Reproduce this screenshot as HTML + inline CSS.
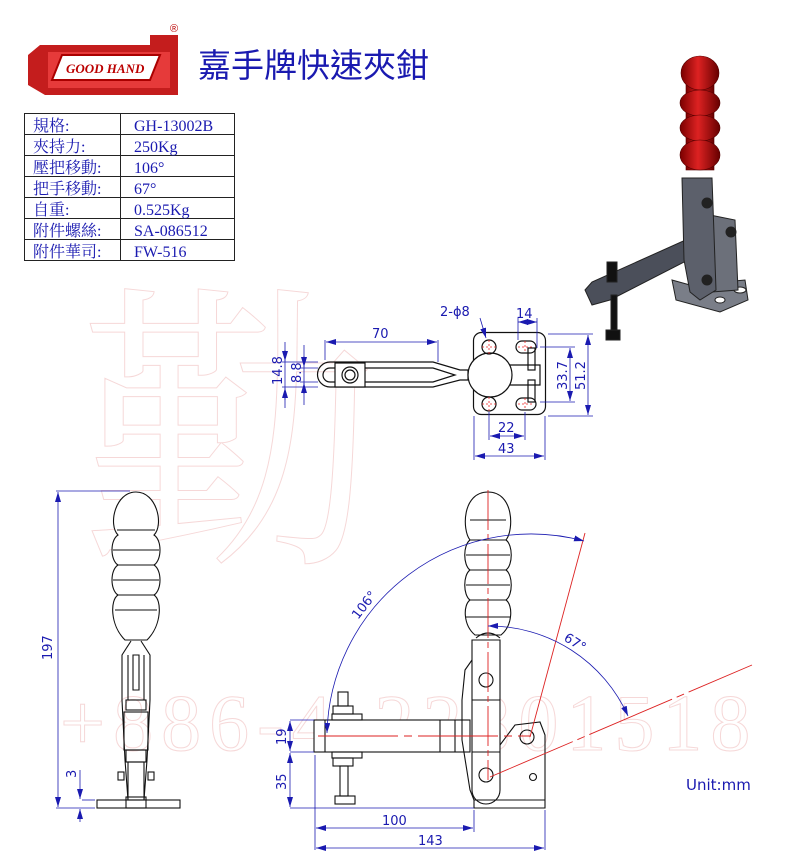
<!DOCTYPE html>
<html><head><meta charset="utf-8"><style>
html,body{margin:0;padding:0;background:#fff}
svg{display:block}
.t{font-family:"Liberation Serif","Noto Serif CJK SC","Noto Sans CJK TC",serif;font-size:16px;fill:#1a1ab0}
.d{font-family:"DejaVu Sans","Liberation Sans",sans-serif;font-size:13px;fill:#1a1ab0}
</style></head><body>
<svg width="800" height="868" viewBox="0 0 800 868" xmlns="http://www.w3.org/2000/svg">
<defs>
<marker id="a" viewBox="0 0 10 6" refX="10" refY="3" markerWidth="10" markerHeight="6" orient="auto-start-reverse" markerUnits="userSpaceOnUse"><path d="M0,0L10,3L0,6z" fill="#1a1ab0"/></marker>
<linearGradient id="rg" x1="0" x2="1"><stop offset="0" stop-color="#7a0000"/><stop offset=".45" stop-color="#d22"/><stop offset="1" stop-color="#600"/></linearGradient>
</defs>
<!-- watermark -->
<g fill="none" stroke="#f6d8d8" stroke-width="1" font-family="Liberation Serif,Noto Serif CJK SC,serif">
<text x="80" y="540" font-size="300" font-family="Noto Serif CJK TC,serif">勤</text>
<text x="60" y="750" font-size="80" letter-spacing="8">+886-4-22801518</text>
</g>
<!-- logo -->
<g>
<path d="M40,45 L150,45 L150,35 L178,35 L178,95 L45,95 L28,85 L28,55z" fill="#c41d1d"/>
<path d="M48,52 L170,52 L170,88 L48,88z" fill="#e63a3a"/>
<path d="M62,55 L160,55 L150,80 L52,80z" fill="#fff" stroke="#a00" stroke-width="2"/>
<text x="66" y="73" font-family="Liberation Serif,serif" font-style="italic" font-weight="bold" font-size="13" fill="#b00">GOOD HAND</text>
<text x="170" y="32" font-size="11" fill="#b00" font-family="Liberation Sans,sans-serif">®</text>
</g>
<text x="198" y="77" font-family="Noto Sans CJK TC,sans-serif" font-size="33" fill="#1a1ab0">嘉手牌快速夾鉗</text>
<!-- table -->
<g stroke="#222" stroke-width="1" fill="none">
<rect x="24.5" y="113.5" width="210" height="147"/>
<line x1="120.5" y1="113" x2="120.5" y2="261"/>
<line x1="24" y1="134.5" x2="235" y2="134.5"/><line x1="24" y1="155.5" x2="235" y2="155.5"/>
<line x1="24" y1="176.5" x2="235" y2="176.5"/><line x1="24" y1="197.5" x2="235" y2="197.5"/>
<line x1="24" y1="218.5" x2="235" y2="218.5"/><line x1="24" y1="239.5" x2="235" y2="239.5"/>
</g>
<g class="t">
<text x="33" y="131">規格:</text><text x="134" y="131">GH-13002B</text>
<text x="33" y="152">夾持力:</text><text x="134" y="152">250Kg</text>
<text x="33" y="173">壓把移動:</text><text x="134" y="173">106°</text>
<text x="33" y="194">把手移動:</text><text x="134" y="194">67°</text>
<text x="33" y="215">自重:</text><text x="134" y="215">0.525Kg</text>
<text x="33" y="236">附件螺絲:</text><text x="134" y="236">SA-086512</text>
<text x="33" y="257">附件華司:</text><text x="134" y="257">FW-516</text>
</g>
<!-- photo -->
<g stroke="#222" stroke-width="1">
<path d="M672,280 L690,285 L745,280 L748,300 L720,312 L676,300Z" fill="#7a7e88"/>
<ellipse cx="720" cy="300" rx="5" ry="3" fill="#fff"/><ellipse cx="740" cy="290" rx="6" ry="3" fill="#fff"/>
<path d="M710,215 L735,220 L738,290 L712,292Z" fill="#6c707a"/>
<path d="M585,290 L592,282 L690,238 L692,258 L610,300 L592,305Z" fill="#4b4f5a"/>
<path d="M682,178 L712,178 L716,290 L700,300 L690,292 L684,260Z" fill="#5c606b"/>
<circle cx="707" cy="203" r="5" fill="#222"/><circle cx="707" cy="280" r="5" fill="#222"/><circle cx="731" cy="232" r="5" fill="#222"/>
<rect x="607" y="262" width="10" height="20" fill="#111"/>
<rect x="611" y="295" width="6" height="35" fill="#111"/>
<rect x="606" y="330" width="14" height="10" fill="#111"/>
</g>
<g stroke="#500" stroke-width="0.6">
<rect x="686" y="80" width="28" height="90" fill="url(#rg)"/>
<ellipse cx="700" cy="73" rx="19" ry="17" fill="url(#rg)"/>
<ellipse cx="700" cy="103" rx="20" ry="13" fill="url(#rg)"/>
<ellipse cx="700" cy="128" rx="20" ry="13" fill="url(#rg)"/>
<ellipse cx="700" cy="155" rx="20" ry="15" fill="url(#rg)"/>
</g>
<!-- top view -->
<g fill="none" stroke="#111" stroke-width="1.2">
<path d="M330,362 L433,362 L460,370 L468,370 L468,380 L460,380 L433,387 L330,387 A12.5,12.5 0 0 1 330,362Z"/>
<path d="M330,368 L433,368 L455,375 L433,382 L330,382 A7,7 0 0 1 330,368Z"/>
<rect x="335" y="363" width="30" height="24" fill="#fff"/>
<circle cx="350" cy="375" r="8"/><circle cx="350" cy="375" r="5"/>
<rect x="473.5" y="332.5" width="72" height="82" rx="8"/>
<circle cx="490" cy="375" r="22" fill="#fff"/>
<path d="M510,365 L540,365 L540,385 L510,385"/>
<rect x="528" y="348" width="7" height="22"/><rect x="528" y="380" width="7" height="22"/>
<circle cx="489" cy="347" r="7"/><circle cx="489" cy="404" r="7"/>
<rect x="516" y="341" width="20" height="12" rx="6"/><rect x="516" y="398" width="20" height="12" rx="6"/>
</g>
<g stroke="#e22" stroke-width="0.8" stroke-dasharray="2,2">
<line x1="482" y1="347" x2="496" y2="347"/><line x1="489" y1="340" x2="489" y2="354"/>
<line x1="482" y1="404" x2="496" y2="404"/><line x1="489" y1="397" x2="489" y2="411"/>
<line x1="518" y1="347" x2="534" y2="347"/><line x1="525" y1="341" x2="525" y2="353"/>
<line x1="518" y1="404" x2="534" y2="404"/><line x1="525" y1="398" x2="525" y2="410"/>
</g>
<g stroke="#1a1ab0" stroke-width="0.8" fill="none">
<line x1="325" y1="340" x2="325" y2="360"/><line x1="438" y1="340" x2="438" y2="362"/>
<line x1="326" y1="342" x2="437" y2="342" marker-start="url(#a)" marker-end="url(#a)"/>
<line x1="282" y1="362" x2="318" y2="362"/><line x1="282" y1="387" x2="318" y2="387"/>
<line x1="285" y1="342" x2="285" y2="408"/><line x1="285" y1="350" x2="285" y2="361" marker-end="url(#a)"/><line x1="285" y1="400" x2="285" y2="388" marker-end="url(#a)"/>
<line x1="300" y1="368" x2="318" y2="368"/><line x1="300" y1="382" x2="318" y2="382"/>
<line x1="304" y1="345" x2="304" y2="405"/><line x1="304" y1="356" x2="304" y2="367" marker-end="url(#a)"/><line x1="304" y1="394" x2="304" y2="383" marker-end="url(#a)"/>
<line x1="518" y1="318" x2="518" y2="340"/><line x1="537" y1="318" x2="537" y2="348"/>
<line x1="518" y1="322" x2="537" y2="322" marker-start="url(#a)" marker-end="url(#a)"/>
<line x1="540" y1="347" x2="575" y2="347"/><line x1="540" y1="402" x2="575" y2="402"/>
<line x1="570" y1="348" x2="570" y2="401" marker-start="url(#a)" marker-end="url(#a)"/>
<line x1="548" y1="334" x2="593" y2="334"/><line x1="548" y1="416" x2="593" y2="416"/>
<line x1="588" y1="335" x2="588" y2="415" marker-start="url(#a)" marker-end="url(#a)"/>
<line x1="489" y1="412" x2="489" y2="440"/><line x1="525" y1="412" x2="525" y2="440"/>
<line x1="490" y1="436" x2="524" y2="436" marker-start="url(#a)" marker-end="url(#a)"/>
<line x1="474" y1="416" x2="474" y2="460"/><line x1="545" y1="416" x2="545" y2="460"/>
<line x1="475" y1="456" x2="544" y2="456" marker-start="url(#a)" marker-end="url(#a)"/>
<line x1="480" y1="318" x2="486" y2="338" marker-end="url(#a)"/>
</g>
<g class="d">
<text x="372" y="338">70</text>
<text x="440" y="316">2-ϕ8</text>
<text x="516" y="318">14</text>
<text x="498" y="432">22</text>
<text x="498" y="453">43</text>
<text transform="translate(282,385) rotate(-90)">14.8</text>
<text transform="translate(301,383) rotate(-90)">8.8</text>
<text transform="translate(567,390) rotate(-90)">33.7</text>
<text transform="translate(585,390) rotate(-90)">51.2</text>
</g>
<!-- left view -->
<g fill="none" stroke="#111" stroke-width="1.1">
<path d="M125,640 C110,625 110,600 118,595 C110,590 110,570 118,565 C110,560 110,540 118,535 C108,525 115,492 136,492 C157,492 164,525 154,535 C162,540 162,560 154,565 C162,570 162,590 154,595 C162,600 162,625 147,640Z" fill="#fff"/>
<line x1="117" y1="530" x2="155" y2="530"/><line x1="113" y1="550" x2="159" y2="550"/><line x1="117" y1="565" x2="155" y2="565"/>
<line x1="113" y1="580" x2="159" y2="580"/><line x1="117" y1="595" x2="155" y2="595"/><line x1="115" y1="610" x2="157" y2="610"/>
<path d="M131,641 L122,655 L122,700 L125,760 L128,800 M141,641 L150,655 L150,700 L147,760 L144,800"/>
<path d="M128,655 L128,700 M144,655 L144,700 M133,655 L139,655 L139,690 L133,690Z"/>
<rect x="126" y="700" width="20" height="10"/><rect x="124" y="712" width="24" height="38"/><rect x="126" y="750" width="20" height="12"/>
<rect x="128" y="762" width="16" height="38"/>
<rect x="118" y="772" width="6" height="8"/><rect x="148" y="772" width="6" height="8"/>
<rect x="97" y="800" width="83" height="8"/><rect x="126" y="797" width="20" height="11"/>
</g>
<g stroke="#1a1ab0" stroke-width="0.8" fill="none">
<line x1="56" y1="491" x2="130" y2="491"/><line x1="56" y1="808" x2="95" y2="808"/>
<line x1="58" y1="492" x2="58" y2="807" marker-start="url(#a)" marker-end="url(#a)"/>
<line x1="82" y1="800" x2="95" y2="800"/>
<line x1="80" y1="770" x2="80" y2="799" marker-end="url(#a)"/><line x1="80" y1="822" x2="80" y2="809" marker-end="url(#a)"/>
</g>
<g class="d"><text transform="translate(52,660) rotate(-90)">197</text><text transform="translate(76,778) rotate(-90)">3</text></g>
<!-- front view -->
<g fill="none" stroke="#111" stroke-width="1.1">
<path d="M475,635 C463,625 463,605 470,600 C463,595 463,575 470,570 C463,565 463,545 470,540 C462,530 462,492 488,492 C514,492 514,530 506,540 C513,545 513,565 506,570 C513,575 513,595 506,600 C513,605 513,625 501,635Z" fill="#fff"/>
<line x1="470" y1="520" x2="506" y2="520"/><line x1="470" y1="540" x2="506" y2="540"/><line x1="466" y1="555" x2="510" y2="555"/>
<line x1="470" y1="570" x2="506" y2="570"/><line x1="466" y1="585" x2="510" y2="585"/><line x1="470" y1="600" x2="506" y2="600"/><line x1="466" y1="617" x2="510" y2="617"/>
<path d="M476,638 Q488,628 500,638"/>
<rect x="314" y="720" width="156" height="32" fill="#fff"/>
<line x1="325" y1="720" x2="325" y2="752"/><line x1="440" y1="720" x2="440" y2="752"/><line x1="455" y1="720" x2="455" y2="752"/>
<path d="M472,640 L500,640 L500,790 A14,14 0 0 1 472,790Z" fill="#fff"/>
<path d="M472,660 L465,670 L462,700 L462,740 L470,790 L474,800"/>
<circle cx="486" cy="680" r="7"/><circle cx="486" cy="775" r="7"/>
<line x1="472" y1="700" x2="500" y2="700"/><line x1="472" y1="752" x2="500" y2="752"/>
<path d="M500,745 L515,725 L540,722 L545,735 L545,808 L474,808 L474,800"/>
<circle cx="527" cy="737" r="7"/><circle cx="533" cy="777" r="3.5"/>
<line x1="474" y1="800" x2="545" y2="800"/>
<rect x="338" y="692" width="10" height="14"/><rect x="333" y="706" width="20" height="8"/><rect x="332" y="714" width="30" height="6"/>
<rect x="332" y="752" width="30" height="6"/><rect x="333" y="758" width="20" height="8"/>
<rect x="340" y="766" width="8" height="30"/><rect x="335" y="796" width="20" height="8"/>
</g>
<g stroke="#d22" stroke-width="0.9" fill="none">
<line x1="488" y1="490" x2="488" y2="780" stroke-dasharray="40,4,6,4"/>
<line x1="318" y1="736" x2="530" y2="736" stroke-dasharray="80,6,8,6"/>
<line x1="530" y1="737" x2="585" y2="533"/>
<line x1="490" y1="777" x2="752" y2="665" stroke-dasharray="90,5,8,5"/>
</g>
<g stroke="#1a1ab0" stroke-width="0.8" fill="none">
<path d="M584,541 A204,204 0 0 0 327,733" marker-start="url(#a)" marker-end="url(#a)"/>
<path d="M488,626 A152,152 0 0 1 628,716" marker-start="url(#a)" marker-end="url(#a)"/>
<line x1="290" y1="720" x2="314" y2="720"/><line x1="290" y1="752" x2="314" y2="752"/><line x1="290" y1="808" x2="474" y2="808"/>
<line x1="290" y1="721" x2="290" y2="751" marker-start="url(#a)" marker-end="url(#a)"/>
<line x1="290" y1="753" x2="290" y2="807" marker-start="url(#a)" marker-end="url(#a)"/>
<line x1="315" y1="755" x2="315" y2="850"/><line x1="474" y1="810" x2="474" y2="832"/><line x1="545" y1="810" x2="545" y2="850"/>
<line x1="316" y1="828" x2="473" y2="828" marker-start="url(#a)" marker-end="url(#a)"/>
<line x1="316" y1="848" x2="544" y2="848" marker-start="url(#a)" marker-end="url(#a)"/>
</g>
<g class="d">
<text x="382" y="825">100</text><text x="418" y="845">143</text>
<text transform="translate(286,745) rotate(-90)">19</text>
<text transform="translate(286,790) rotate(-90)">35</text>
<text transform="translate(358,620) rotate(-52)">106°</text>
<text transform="translate(563,640) rotate(32)">67°</text>
<text x="686" y="790" font-size="15">Unit:mm</text>
</g>
</svg>
</body></html>
